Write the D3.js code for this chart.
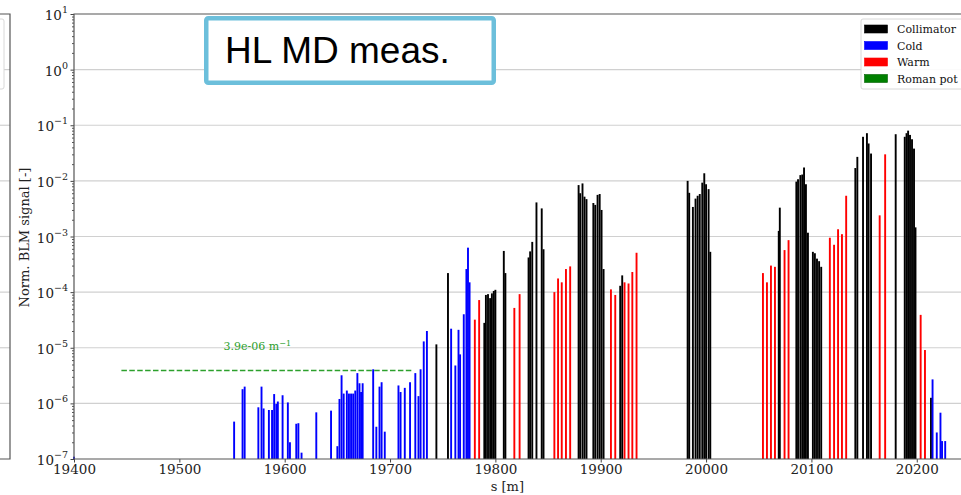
<!DOCTYPE html>
<html>
<head>
<meta charset="utf-8">
<script src="https://cdn.jsdelivr.net/npm/d3@7"></script>
<style>
  html, body { margin: 0; padding: 0; background: #fff; }
  svg { display: block; }
</style>
</head>
<body>
<svg id="chart" width="961" height="495"></svg>
<script>
// ---- data ----
const coldS = [19400, 19552, 19560, 19562, 19575, 19578, 19580, 19585, 19588, 19590, 19592, 19593.5, 19598, 19603, 19605, 19611, 19613, 19616, 19630, 19644,
  19650, 19652, 19654, 19656, 19659, 19661, 19663, 19665, 19667, 19669, 19671, 19672.5, 19674, 19684, 19687, 19690, 19692, 19695,
  19708, 19710, 19714, 19719, 19724, 19727, 19729, 19732, 19735, 19758, 19762, 19765, 19766.5, 19770, 19772.5, 19774, 19775.5,
  20215, 20219, 20222.5, 20224, 20227];
const coldV = [1.1e-7, 4.7e-7, 1.8e-6, 2.0e-6, 8.5e-7, 2.0e-6, 8.1e-7, 7.6e-7, 7.6e-7, 1.47e-6, 9.8e-7, 1.08e-6, 1.4e-6, 1.04e-6, 2.0e-7, 4.3e-7, 4.4e-7, 1.3e-7, 6.9e-7, 7.4e-7,
  1.7e-7, 1.2e-6, 3.2e-6, 1.5e-6, 1.7e-6, 1.5e-6, 1.5e-6, 1.5e-6, 1.7e-6, 3.5e-6, 2.3e-6, 1.6e-6, 2.3e-6, 4.1e-6, 3.8e-7, 2.0e-6, 2.4e-6, 3.1e-7,
  2.1e-6, 1.6e-6, 1.9e-6, 2.4e-6, 3.5e-6, 1.35e-6, 4.1e-6, 1.3e-5, 2.0e-5, 2.2e-5, 4.8e-6, 2.1e-5, 7.6e-6, 4.0e-5, 2.6e-4, 6.3e-4, 1.5e-4,
  2.7e-6, 3.0e-7, 6.8e-7, 2.1e-7, 2.1e-7];

const collS = [19744, 19755, 19789.5, 19791, 19793, 19795, 19796.7, 19798.5, 19800, 19808, 19809.5, 19831.5, 19833, 19835, 19839, 19844, 19845.7,
  19879, 19880.5, 19882.7, 19884.6, 19886.5, 19893, 19894.8, 19897, 19899, 19900.8, 19902.7, 19918.5, 19920.4,
  19982.5, 19984, 19987.5, 19990, 19992, 19994, 19996.4, 19998.3, 20000, 20002.4, 20004,
  20069, 20070, 20085.7, 20087.3, 20089.5, 20091.3, 20093, 20094.8, 20096.7, 20101.4, 20103.3, 20105.3, 20107.3, 20109.3,
  20141.7, 20143.6, 20149, 20152.7, 20154.3, 20156.6, 20180, 20188.6, 20190.3, 20191.8, 20193.6, 20195.5, 20197.4, 20198.8, 20213.5];
const collV = [1.15e-5, 2.2e-4, 2.8e-5, 8.9e-5, 9.2e-5, 7.8e-5, 9.5e-5, 1.05e-4, 1.1e-4, 5.5e-4, 2.2e-4, 4.2e-4, 5.4e-4, 8e-4, 4.1e-3, 3.2e-3, 5.9e-4,
  8.4e-3, 6e-3, 9e-3, 5.2e-3, 4.7e-3, 4e-3, 3.7e-3, 5.6e-3, 5.8e-3, 3e-3, 2.6e-4, 1.3e-4, 2e-4,
  1e-2, 6.1e-3, 3.4e-3, 4.8e-3, 5.4e-3, 5.8e-3, 9.3e-3, 1.37e-2, 8.7e-3, 7.1e-3, 5.3e-4,
  1.26e-3, 3.3e-3, 9.7e-3, 1.07e-2, 1.27e-2, 1.3e-2, 1.74e-2, 8.7e-3, 1.17e-3, 5.3e-4, 5e-4, 4e-4, 3.6e-4, 2.85e-4,
  1.7e-2, 2.7e-2, 6.2e-2, 7.2e-2, 4.7e-2, 3.1e-2, 6.9e-2, 6.2e-2, 7.2e-2, 8e-2, 6.7e-2, 5.6e-2, 3.8e-2, 1.46e-3, 1.26e-6];

const warmS = [19780.5, 19784.6, 19818, 19823, 19856, 19859.5, 19863, 19867, 19871, 19909.7, 19913.8, 19922.6, 19926.4, 19930, 19934,
  20054, 20057.8, 20061.6, 20065.4, 20074.5, 20078.3, 20117.5, 20121.5, 20125.3, 20129, 20133, 20164.8, 20170, 20203.7, 20207.8];
const warmV = [3.2e-5, 7.2e-5, 5.2e-5, 9.2e-5, 1.0e-4, 1.76e-4, 1.5e-4, 2.6e-4, 2.9e-4, 1.12e-4, 8.9e-5, 1.5e-4, 1.43e-4, 2.3e-4, 5.1e-4,
  2.2e-4, 1.5e-4, 3e-4, 2.85e-4, 5.7e-4, 8.6e-4, 9.5e-4, 7.1e-4, 1.35e-3, 1.1e-3, 5.4e-3, 2.4e-3, 3.0e-2, 3.9e-5, 9.1e-6];

const legendLabels = ["Collimator", "Cold", "Warm", "Roman pot"];
const legendColors = ["#000000", "#0000ff", "#ff0000", "#008000"];

const xTicks = [19400, 19500, 19600, 19700, 19800, 19900, 20000, 20100, 20200];
const yExponents = [-7, -6, -5, -4, -3, -2, -1, 0, 1];

const lossRate = 3.9e-6;       // dashed line level
const lossRange = [19445, 19722];
const lossLabel = "3.9e-06 m";

// ---- layout ----
const svg = d3.select("#chart");
const L = 74, R = 961, T = 14, B = 459;
const serif = "'DejaVu Serif', serif";

const x = d3.scaleLinear().domain([19400, 20242]).range([L, R]);
const y = d3.scaleLog().domain([1e-7, 10]).range([B, T]);

// left remnant panel
const rem = svg.append("g");
yExponents.slice(1, -1).forEach(e => {
  rem.append("line").attr("x1", 0).attr("x2", 10).attr("y1", y(Math.pow(10, e))).attr("y2", y(Math.pow(10, e)))
    .attr("stroke", "#d0d0d0").attr("stroke-width", 1.2);
});
rem.append("rect").attr("x", -100).attr("y", 19).attr("width", 104).attr("height", 70)
  .attr("fill", "#fff").attr("stroke", "#d8d8d8").attr("rx", 2);
rem.append("path").attr("d", `M0,${T}H10V${B}H0`).attr("fill", "none").attr("stroke", "#555").attr("stroke-width", 1.2);

// grid
const grid = svg.append("g");
yExponents.forEach(e => {
  const yy = y(Math.pow(10, e));
  if (e === -7 || e === 1) return;
  grid.append("line").attr("x1", L).attr("x2", R).attr("y1", yy).attr("y2", yy)
    .attr("stroke", "#d0d0d0").attr("stroke-width", 1.2);
});

// bars
const barW = 1.8;
function drawBars(S, V, color) {
  const data = S.map((s, i) => ({ s, v: V[i] }));
  svg.append("g").selectAll("rect").data(data).join("rect")
    .attr("x", d => x(d.s - barW / 2))
    .attr("width", d => x(d.s + barW / 2) - x(d.s - barW / 2))
    .attr("y", d => y(d.v))
    .attr("height", d => y(1e-7) - y(d.v))
    .attr("fill", color);
}
drawBars(collS, collV, legendColors[0]);
drawBars(coldS, coldV, legendColors[1]);
drawBars(warmS, warmV, legendColors[2]);

// dashed loss line
svg.append("line")
  .attr("x1", x(lossRange[0])).attr("x2", x(lossRange[1]))
  .attr("y1", y(lossRate)).attr("y2", y(lossRate))
  .attr("stroke", "#2ca02c").attr("stroke-width", 1.5).attr("stroke-dasharray", "5.5,2.4");
const lt = svg.append("text")
  .attr("x", x((lossRange[0] + lossRange[1]) / 2) - 10).attr("y", y(lossRate) - 20)
  .attr("text-anchor", "middle").attr("font-family", serif).attr("font-size", 11).attr("fill", "#2ca02c");
lt.append("tspan").text(lossLabel);
lt.append("tspan").attr("dy", -4).attr("font-size", 8).text("\u22121");

// axes
const xAxis = d3.axisBottom(x).tickValues(xTicks).tickFormat(d3.format("d")).tickSize(3.5).tickPadding(2);
const gx = svg.append("g").attr("transform", `translate(0,${B})`).call(xAxis);
gx.select(".domain").remove();
gx.selectAll(".tick line").attr("stroke", "#444");
gx.selectAll(".tick text").attr("font-family", serif).attr("font-size", 13.5).attr("fill", "#222");

const minors = [];
for (let e = -7; e < 1; e++) for (let k = 2; k <= 9; k++) minors.push(k * Math.pow(10, e));
const gyMinor = svg.append("g").attr("transform", `translate(${L},0)`)
  .call(d3.axisLeft(y).tickValues(minors).tickFormat("").tickSize(2));
gyMinor.select(".domain").remove();
gyMinor.selectAll(".tick line").attr("stroke", "#555");

const gy = svg.append("g").attr("transform", `translate(${L},0)`)
  .call(d3.axisLeft(y).tickValues(yExponents.map(e => Math.pow(10, e))).tickFormat("").tickSize(3.5));
gy.select(".domain").remove();
gy.selectAll(".tick line").attr("stroke", "#444");
gy.selectAll(".tick").each(function (d) {
  const e = Math.round(Math.log10(d));
  const t = d3.select(this).append("text")
    .attr("x", -6).attr("y", 5.5).attr("text-anchor", "end")
    .attr("font-family", serif).attr("font-size", 13.5).attr("fill", "#222");
  t.append("tspan").text("10");
  t.append("tspan").attr("dy", -7).attr("font-size", 9.5).text(e < 0 ? "\u2212" + (-e) : String(e));
});

// spines
svg.append("path").attr("d", `M${R + 5},${T}H${L}V${B}H${R + 5}`)
  .attr("fill", "none").attr("stroke", "#555").attr("stroke-width", 1.2);

// axis labels
svg.append("text").attr("x", x(19800) + 12).attr("y", 491).attr("text-anchor", "middle")
  .attr("font-family", serif).attr("font-size", 13).attr("fill", "#222").text("s [m]");
svg.append("text").attr("transform", `translate(29,${(T + B) / 2 + 1}) rotate(-90)`).attr("text-anchor", "middle")
  .attr("font-family", serif).attr("font-size", 13).attr("fill", "#222").text("Norm. BLM signal [-]");

// legend
const lg = svg.append("g");
lg.append("rect").attr("x", 861).attr("y", 19).attr("width", 120).attr("height", 70).attr("rx", 2)
  .attr("fill", "#fff").attr("fill-opacity", 0.9).attr("stroke", "#d8d8d8");
const rowY = [29, 45.5, 62, 78.5];
legendLabels.forEach((lab, i) => {
  lg.append("rect").attr("x", 864.5).attr("y", rowY[i] - 4).attr("width", 23).attr("height", 8)
    .attr("fill", legendColors[i]).attr("stroke", legendColors[i] === "#008000" ? "#006000" : legendColors[i]).attr("stroke-width", 0.6);
  lg.append("text").attr("x", 897).attr("y", rowY[i] + 4).attr("font-family", serif).attr("font-size", 11)
    .attr("fill", "#111").text(lab);
});

// annotation box
svg.append("rect").attr("x", 206.25).attr("y", 18.25).attr("width", 287.5).attr("height", 64.5).attr("rx", 2)
  .attr("fill", "#fff").attr("stroke", "#6cbfdb").attr("stroke-width", 4.5);
svg.append("text").attr("x", 225).attr("y", 63).attr("font-family", "'Liberation Sans', Arial, sans-serif")
  .attr("font-size", 37).attr("fill", "#000").text("HL MD meas.");
</script>
</body>
</html>
